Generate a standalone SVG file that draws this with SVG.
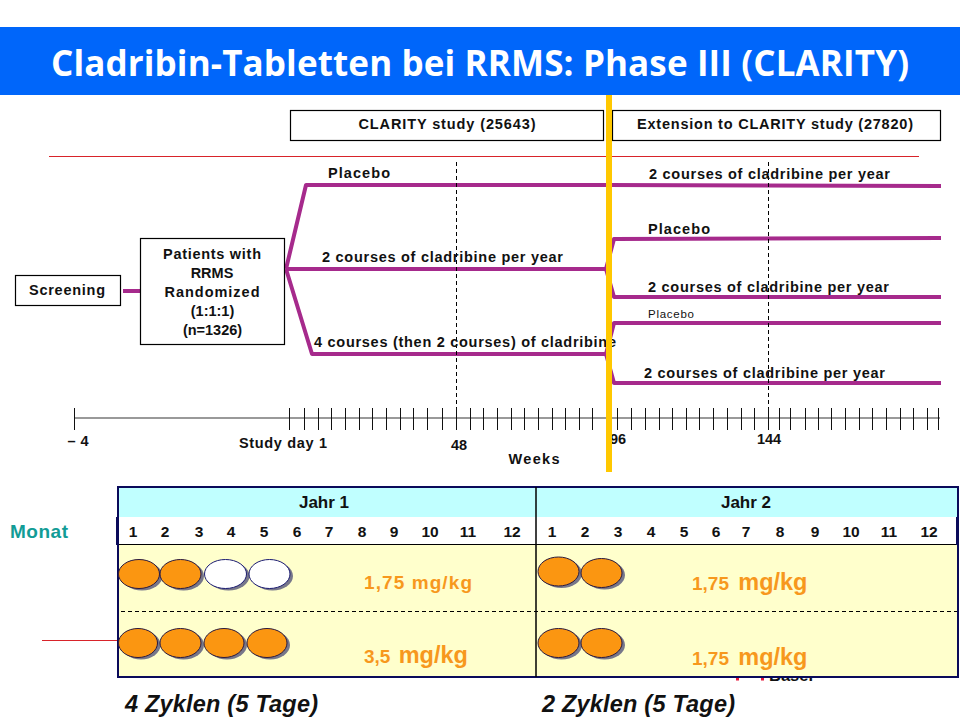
<svg xmlns="http://www.w3.org/2000/svg" width="960" height="720" viewBox="0 0 960 720">
<style>
text{font-family:"Liberation Sans",Arial,sans-serif;font-weight:700;fill:#111}
.l{font-size:14.500px}
.m{font-size:14.500px;text-anchor:middle}
.n{font-size:15.500px;text-anchor:middle}
.j{font-size:17px;text-anchor:middle}
.box{fill:#fff;stroke:#000;stroke-width:1.2}
.arm{fill:none;stroke:#a62a8c;stroke-width:4;stroke-linejoin:round}
.dash{fill:none;stroke:#000;stroke-width:1;stroke-dasharray:4 3}
.tick{stroke:#111;stroke-width:1}
.o{fill:#fb9611;stroke:#2a1a40;stroke-width:1}
.w{fill:#fff;stroke:#1a1a70;stroke-width:1}
.s{fill:#77778a}
.dose{font-size:19px;fill:#f7981d}
.big{font-size:23.500px}
.zy{font-size:23.500px;font-style:italic}
</style>
<rect width="960" height="720" fill="#fff"/>
<g id="title"><rect x="0" y="27" width="960" height="68" fill="#0066fa"/>
<text x="51" y="76" style="font-family:'Open Sans',sans-serif;font-size:35px;font-weight:700;fill:#fff" textLength="858">Cladribin-Tabletten bei RRMS: Phase III (CLARITY)</text></g>
<line x1="49" y1="156.500" x2="919" y2="156.500" stroke="#d8232a" stroke-width="1"/>
<g id="connectors">
<path class="arm" d="M123 291H141"/>
<path class="arm" d="M286 269L306 185H607L941 186"/>
<path class="arm" d="M286 269H607"/>
<path class="arm" d="M286 269L312 354H607"/>
<path class="arm" d="M606 269L614 239L941 238"/>
<path class="arm" d="M606 269L614 297H941"/>
<path class="arm" d="M606 354L614 323L941 323"/>
<path class="arm" d="M606 354L614 383L941 383"/>
<path class="dash" d="M456.500 162V418M768.500 162V418"/>
</g>
<g id="node-clarity"><rect class="box" x="290.500" y="110.500" width="313" height="30"/><text class="m" x="447" y="129" textLength="177">CLARITY study (25643)</text></g>
<g id="node-extension"><rect class="box" x="612.500" y="110.500" width="328" height="30"/><text class="m" x="775" y="129" textLength="276">Extension to CLARITY study (27820)</text></g>
<g id="node-screening"><rect class="box" x="15.500" y="275.500" width="105" height="30"/><text class="m" x="67" y="295" textLength="76">Screening</text></g>
<g id="node-patients"><rect class="box" x="140.500" y="238.500" width="144" height="106"/>
<text class="m" x="212" y="259" textLength="98">Patients with</text><text class="m" x="212" y="278">RRMS</text><text class="m" x="212" y="297" textLength="95">Randomized</text><text class="m" x="212.500" y="316">(1:1:1)</text><text class="m" x="212.500" y="335">(n=1326)</text></g>
<g id="labels">
<text class="l" x="328" y="178" textLength="62">Placebo</text>
<text class="l" x="322" y="262" textLength="241">2 courses of cladribine per year</text>
<text class="l" x="314" y="347" textLength="302">4 courses (then 2 courses) of cladribine</text>
<text class="l" x="649" y="179" textLength="241">2 courses of cladribine per year</text>
<text class="l" x="648" y="234" textLength="62">Placebo</text>
<text class="l" x="648" y="292" textLength="241">2 courses of cladribine per year</text>
<text x="648" y="318" style="font-size:11.500px;font-weight:400" textLength="46">Placebo</text>
<text class="l" x="644" y="378" textLength="241">2 courses of cladribine per year</text>
</g>
<g id="axis">
<path d="M74 418H940" stroke="#777" stroke-width="1.500"/>
<path class="tick" d="M74.500 408V430M289.500 408V430M304.500 408V430M318.500 408V430M331.500 408V430M345.500 408V430M359.500 408V430M372.500 408V430M386.500 408V430M400.500 408V430M413.500 408V430M427.500 408V430M442.500 408V430M456.500 408V430M470.500 408V430M483.500 408V430M497.500 408V430M511.500 408V430M524.500 408V430M538.500 408V430M552.500 408V430M565.500 408V430M579.500 408V430M592.500 408V430M606.500 408V430M617.500 408V430M631.500 408V430M645.500 408V430M659.500 408V430M672.500 408V430M686.500 408V430M699.500 408V430M713.500 408V430M727.500 408V430M741.500 408V430M754.500 408V430M768.500 408V430M779.500 408V430M790.500 408V430M805.500 408V430M818.500 408V430M831.500 408V430M845.500 408V430M859.500 408V430M872.500 408V430M886.500 408V430M900.500 408V430M913.500 408V430M927.500 408V430M938.500 408V430"/>
<text class="m" x="78" y="446" textLength="21">– 4</text>
<text class="m" x="283" y="448" textLength="88">Study day 1</text>
<text class="m" x="459" y="450">48</text>
<text class="m" x="618" y="444">96</text>
<text class="m" x="769" y="444">144</text>
<text class="m" x="534" y="464" textLength="51">Weeks</text>
</g>
<rect id="divider" x="606" y="95" width="6" height="377" fill="#ffc800"/>
<g id="basel"><rect x="736" y="670" width="3" height="10.500" fill="#e8173a"/><rect x="761" y="670" width="3" height="10.500" fill="#e8173a"/><text x="769" y="681" style="font-size:16.500px">Basel</text></g>
<line x1="42" y1="640.500" x2="118" y2="640.500" stroke="#d8232a" stroke-width="1"/>
<g id="schedule">
<rect x="118" y="487" width="840" height="190" fill="#ffffcc"/>
<rect x="118" y="487" width="840" height="30" fill="#c0ffff"/>
<rect x="118" y="517" width="840" height="27" fill="#fff"/>
<line x1="118" y1="544.500" x2="958" y2="544.500" stroke="#000" stroke-width="1"/>
<path d="M121 611.500H960" class="dash"/>
<rect x="118" y="487" width="840" height="190" fill="none" stroke="#0a0a5a" stroke-width="2"/>
<rect x="116" y="517" width="3" height="28" fill="#0a0a5a"/><rect x="956" y="517" width="3" height="28" fill="#0a0a5a"/>
<line x1="536" y1="487" x2="536" y2="677" stroke="#000" stroke-width="1.500"/>
<text class="j" x="324" y="508">Jahr 1</text><text class="j" x="746" y="508">Jahr 2</text>
<text x="10" y="538" style="font-size:19px;fill:#129c96" textLength="58">Monat</text>
<g class="months"><text class="n" x="133" y="537">1</text><text class="n" x="165" y="537">2</text><text class="n" x="199" y="537">3</text><text class="n" x="231" y="537">4</text><text class="n" x="264" y="537">5</text><text class="n" x="297" y="537">6</text><text class="n" x="329" y="537">7</text><text class="n" x="362" y="537">8</text><text class="n" x="394" y="537">9</text><text class="n" x="430" y="537">10</text><text class="n" x="468" y="537">11</text><text class="n" x="512" y="537">12</text><text class="n" x="552" y="537">1</text><text class="n" x="585" y="537">2</text><text class="n" x="618" y="537">3</text><text class="n" x="651" y="537">4</text><text class="n" x="684" y="537">5</text><text class="n" x="716" y="537">6</text><text class="n" x="746" y="537">7</text><text class="n" x="780" y="537">8</text><text class="n" x="815" y="537">9</text><text class="n" x="851" y="537">10</text><text class="n" x="889" y="537">11</text><text class="n" x="929" y="537">12</text></g>
<g id="pills">
<ellipse class="s" cx="142" cy="576" rx="20.500" ry="14.500"/><ellipse class="o" cx="139" cy="574" rx="20.500" ry="14.500"/>
<ellipse class="s" cx="183.500" cy="576" rx="20.500" ry="14.500"/><ellipse class="o" cx="180.500" cy="574" rx="20.500" ry="14.500"/>
<ellipse class="s" cx="228.500" cy="576" rx="21" ry="14.500"/><ellipse class="w" cx="225.500" cy="574" rx="21" ry="14.500"/>
<ellipse class="s" cx="272.500" cy="576" rx="20.500" ry="14.500"/><ellipse class="w" cx="269.500" cy="574" rx="20.500" ry="14.500"/>
<ellipse class="s" cx="141" cy="645" rx="19.500" ry="14.500"/><ellipse class="o" cx="138" cy="643" rx="19.500" ry="14.500"/>
<ellipse class="s" cx="183.500" cy="645" rx="20.500" ry="14.500"/><ellipse class="o" cx="180.500" cy="643" rx="20.500" ry="14.500"/>
<ellipse class="s" cx="227" cy="645" rx="20" ry="14.500"/><ellipse class="o" cx="224" cy="643" rx="20" ry="14.500"/>
<ellipse class="s" cx="270" cy="645" rx="20" ry="14.500"/><ellipse class="o" cx="267" cy="643" rx="20" ry="14.500"/>
<ellipse class="s" cx="561.500" cy="573.500" rx="20.500" ry="14.500"/><ellipse class="o" cx="558.500" cy="571.500" rx="20.500" ry="14.500"/>
<ellipse class="s" cx="604.500" cy="575" rx="20.500" ry="14.500"/><ellipse class="o" cx="601.500" cy="573" rx="20.500" ry="14.500"/>
<ellipse class="s" cx="561.500" cy="645" rx="20.500" ry="14.500"/><ellipse class="o" cx="558.500" cy="643" rx="20.500" ry="14.500"/>
<ellipse class="s" cx="604.500" cy="645" rx="20.500" ry="14.500"/><ellipse class="o" cx="601.500" cy="643" rx="20.500" ry="14.500"/>
</g>
<text class="dose" x="364" y="589" textLength="108">1,75 mg/kg</text>
<text class="dose" x="364" y="663">3,5 <tspan class="big" dx="3">mg/kg</tspan></text>
<text class="dose" x="692" y="590">1,75 <tspan class="big" dx="4">mg/kg</tspan></text>
<text class="dose" x="692" y="665">1,75 <tspan class="big" dx="4">mg/kg</tspan></text>
</g>
<text class="zy" x="125" y="712" textLength="193">4 Zyklen (5 Tage)</text>
<text class="zy" x="542" y="712" textLength="193">2 Zyklen (5 Tage)</text>
</svg>
